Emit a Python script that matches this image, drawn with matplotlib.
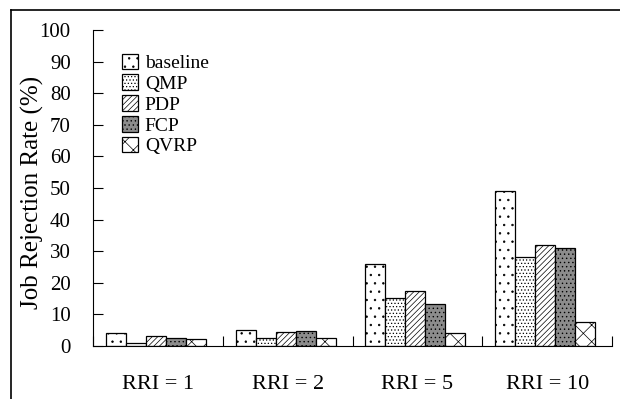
import matplotlib.pyplot as plt
import numpy as np
from matplotlib.lines import Line2D

groups = ['RRI = 1', 'RRI = 2', 'RRI = 5', 'RRI = 10']
series = ['baseline', 'QMP', 'PDP', 'FCP', 'QVRP']
baseline = [4.1, 5.1, 25.9, 49.2]
qmp = [1.0, 2.6, 15.3, 28.2]
pdp = [3.2, 4.4, 17.3, 32.0]
fcp = [2.4, 4.8, 13.3, 31.1]
qvrp = [2.1, 2.4, 4.0, 7.6]

plt.rcParams['font.family'] = 'Liberation Serif'
plt.rcParams['hatch.linewidth'] = 0.5

fig = plt.figure(figsize=(6.2, 3.99), dpi=100)
ax = fig.add_axes([93/620, 53/399, 519/620, 316/399])

styles = [('white', '..'), ('white', '.....'), ('white', '//////'), ('#8c8c8c', '....'), ('white', 'xx')]
x = np.arange(len(groups))
w = 0.154
for k, (name, vals) in enumerate(zip(series, [baseline, qmp, pdp, fcp, qvrp])):
    fc, h = styles[k]
    ax.bar(x + 0.1 + k * w, vals, w, align='edge', color=fc, edgecolor='black',
           hatch=h, linewidth=0.9, label=name)

ax.set_xlim(0, 4)
ax.set_ylim(0, 100)
ax.set_yticks(range(0, 101, 10))
ax.set_xticks([0, 1, 2, 3, 4])
ax.set_xticklabels([])
ax.set_xticks(x + 0.5, minor=True)
ax.set_xticklabels(groups, minor=True, fontsize=16)
ax.tick_params(axis='x', which='minor', length=0, pad=21)
ax.tick_params(axis='x', which='major', direction='in', length=7)
ax.tick_params(axis='y', direction='in', length=7, labelsize=15, pad=16)
ax.spines['top'].set_visible(False)
ax.spines['right'].set_visible(False)
ax.set_ylabel('Job Rejection Rate (%)', fontsize=18)
ax.yaxis.set_label_coords(-0.095, 0.487)

ax.legend(loc='upper left', bbox_to_anchor=(0.04, 0.95), frameon=False, fontsize=14,
          handlelength=0.85, handleheight=0.85, handletextpad=0.35, labelspacing=0.12,
          borderaxespad=0)

fig.add_artist(Line2D([11/620, 1], [1 - 10/399, 1 - 10/399], color='black', lw=1.2))
fig.add_artist(Line2D([11/620, 11/620], [0, 1 - 10/399], color='black', lw=1.2))

fig.savefig('out.png', dpi=100)
